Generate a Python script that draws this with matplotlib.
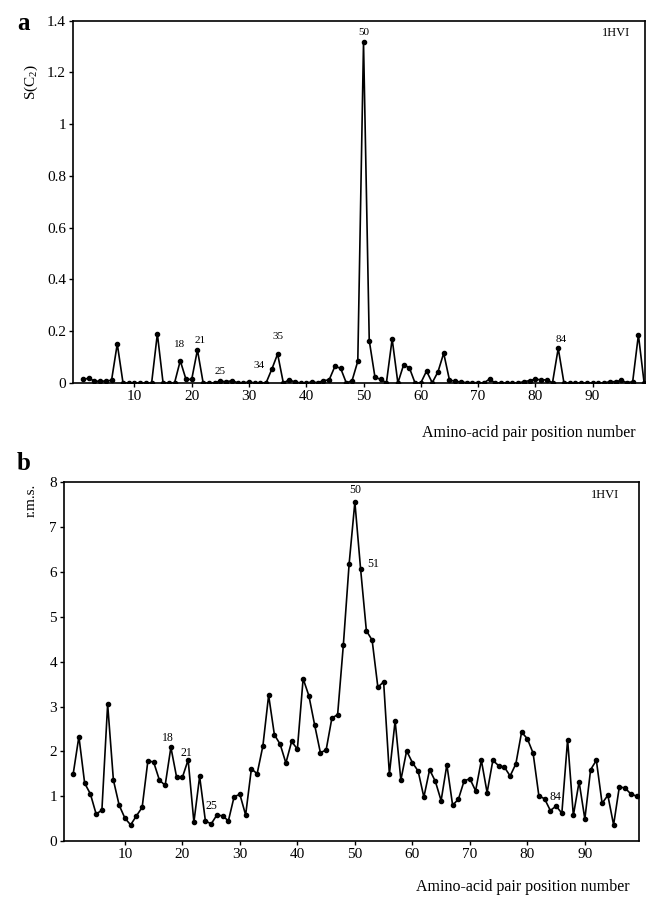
import numpy as np
import matplotlib
matplotlib.use("Agg")
import matplotlib.pyplot as plt

plt.rcParams['font.family'] = ['Liberation Serif', 'DejaVu Serif']
plt.rcParams['mathtext.fontset'] = 'custom'
plt.rcParams['mathtext.rm'] = 'Liberation Serif'
plt.rcParams['mathtext.it'] = 'Liberation Serif'

pos = np.arange(1, 100)

# panel a: S(C2) per amino-acid pair position
s_c2 = [0.014, 0.018, 0.008, 0.006, 0.008, 0.010, 0.151, 0.001, 0.0, 0.0,
        0.0, 0.0, 0.0, 0.190, 0.0, 0.0, 0.0, 0.086, 0.014, 0.014,
        0.128, 0.0, 0.0, 0.0, 0.008, 0.004, 0.009, 0.001, 0.0, 0.004,
        0.0, 0.0, 0.001, 0.054, 0.112, 0.0, 0.012, 0.004, 0.0, 0.0,
        0.004, 0.001, 0.009, 0.012, 0.064, 0.057, 0.0, 0.009, 0.084, 1.316,
        0.164, 0.022, 0.014, 0.001, 0.170, 0.0, 0.070, 0.059, 0.0, 0.0,
        0.046, 0.001, 0.043, 0.115, 0.012, 0.006, 0.004, 0.001, 0.001, 0.001,
        0.0, 0.015, 0.0, 0.0, 0.0, 0.0, 0.0, 0.005, 0.009, 0.015,
        0.012, 0.012, 0.001, 0.134, 0.0, 0.0, 0.0, 0.0, 0.0, 0.0,
        0.0, 0.0, 0.005, 0.005, 0.010, 0.001, 0.005, 0.186, 0.0]

# panel b: r.m.s.
rms = [1.49, 2.33, 1.29, 1.05, 0.60, 0.69, 3.05, 1.36, 0.80, 0.51,
       0.36, 0.56, 0.75, 1.79, 1.76, 1.36, 1.24, 2.09, 1.42, 1.42,
       1.81, 0.42, 1.44, 0.45, 0.38, 0.58, 0.56, 0.45, 0.99, 1.04,
       0.58, 1.61, 1.50, 2.12, 3.25, 2.37, 2.16, 1.74, 2.22, 2.05,
       3.62, 3.24, 2.59, 1.97, 2.03, 2.74, 2.82, 4.38, 6.18, 7.56,
       6.06, 4.69, 4.48, 3.43, 3.55, 1.49, 2.68, 1.36, 2.01, 1.75,
       1.56, 0.98, 1.59, 1.33, 0.90, 1.70, 0.80, 0.93, 1.34, 1.39,
       1.12, 1.80, 1.08, 1.80, 1.68, 1.65, 1.45, 1.72, 2.43, 2.28,
       1.96, 1.01, 0.94, 0.68, 0.78, 0.62, 2.26, 0.57, 1.32, 0.49,
       1.59, 1.80, 0.84, 1.02, 0.36, 1.21, 1.18, 1.05, 1.00]

labels_a = [("50", 50, 1.353), ("18", 17.8, 0.147), ("21", 21.4, 0.164),
            ("25", 25, 0.046), ("34", 31.8, 0.067), ("35", 35, 0.179),
            ("84", 84.5, 0.169)]
labels_b = [("50", 50, 7.82), ("51", 53.2, 6.17), ("18", 17.4, 2.29),
            ("21", 20.7, 1.96), ("25", 25.1, 0.78), ("84", 84.8, 0.98)]

fig = plt.figure(figsize=(6.46, 8.99), dpi=100)
axa = fig.add_axes([0.113, 0.574, 0.885, 0.403])
axb = fig.add_axes([0.099, 0.0645, 0.890, 0.399])

for ax, y, xl in [(axa, s_c2, (-0.73, 99.1)), (axb, rms, (-0.6, 99.4))]:
    ax.plot(pos, y, color='black', lw=1.2, marker='o', ms=3.0)
    ax.set_xlim(*xl)
    ax.set_xticks(range(10, 100, 10))
    ax.tick_params(direction='out', length=3, width=1, labelsize=11, pad=2)
    for sp in ax.spines.values():
        sp.set_linewidth(1.2)

axa.set_ylim(0, 1.4)
axa.set_yticks([0, 0.2, 0.4, 0.6, 0.8, 1, 1.2, 1.4])
axa.set_yticklabels(["0", "0.2", "0.4", "0.6", "0.8", "1", "1.2", "1.4"])
axb.set_ylim(0, 8)
axb.set_yticks(range(0, 9))

for t, x, y in labels_a:
    axa.text(x, y, t, ha='center', va='center', fontsize=8)
for t, x, y in labels_b:
    axb.text(x, y, t, ha='center', va='center', fontsize=8.5)

axa.text(0.975, 0.965, "1HVI", transform=axa.transAxes, ha='right', va='center', fontsize=9)
axb.text(0.965, 0.965, "1HVI", transform=axb.transAxes, ha='right', va='center', fontsize=9)

fig.text(0.984, 1 - 433 / 899, "Amino-acid pair position number", ha='right', va='center', fontsize=11.5)
fig.text(0.975, 1 - 887 / 899, "Amino-acid pair position number", ha='right', va='center', fontsize=11.5)

fig.text(24 / 646, 1 - 23 / 899, "a", fontsize=18, fontweight='bold', ha='center', va='center')
fig.text(24 / 646, 1 - 463 / 899, "b", fontsize=18, fontweight='bold', ha='center', va='center')
fig.text(31 / 646, 1 - 82 / 899, "S(C$_2$)", rotation=90, fontsize=11, ha='center', va='center')
fig.text(31 / 646, 1 - 500 / 899, "r.m.s.", rotation=90, fontsize=11, ha='center', va='center')

fig.savefig("out.png", dpi=100)
